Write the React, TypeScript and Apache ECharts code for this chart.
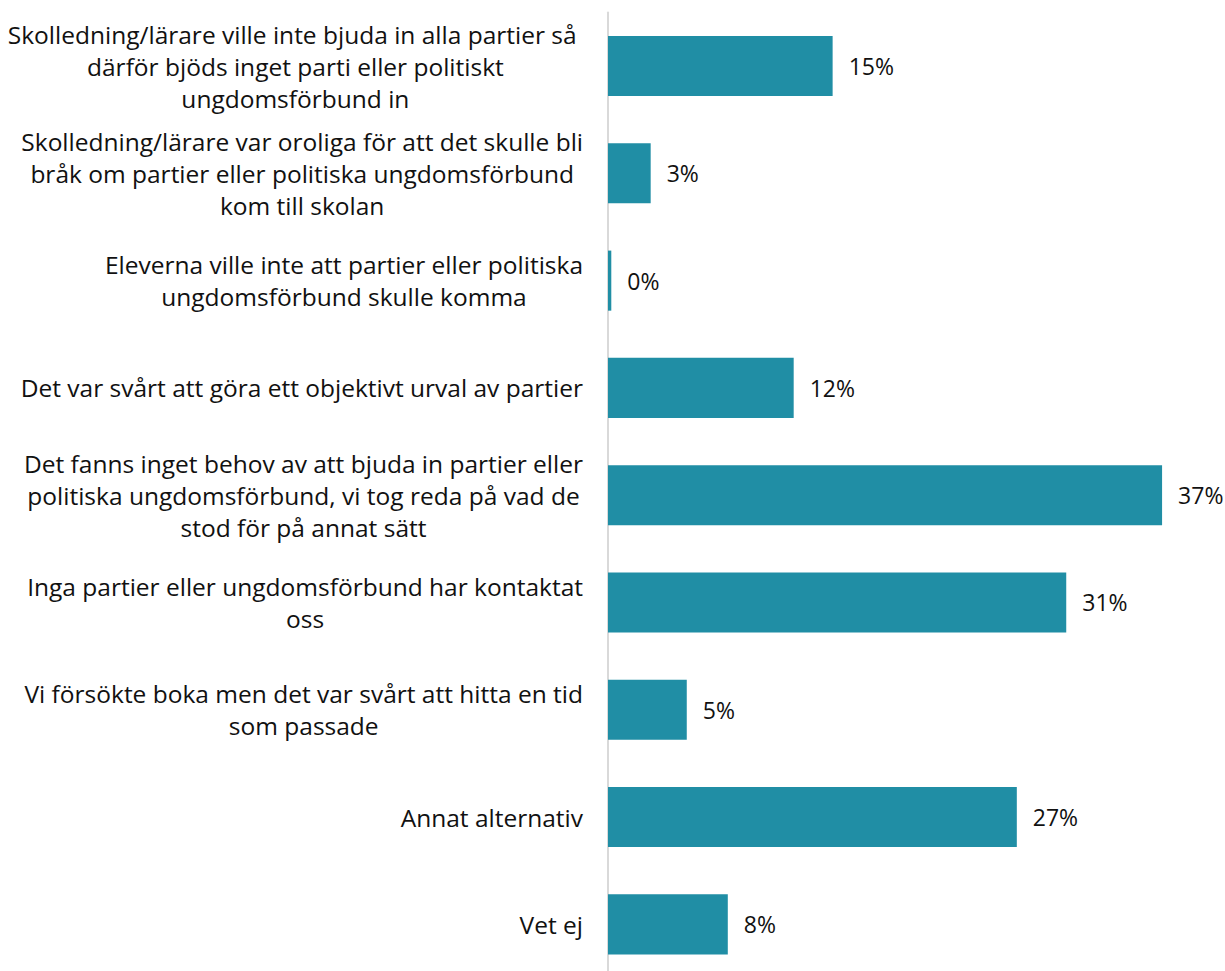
import React, { useEffect, useRef } from "react";
import * as echarts from "echarts";

const categories: string[] = [
  "Skolledning/lärare ville inte bjuda in alla partier så \ndärför bjöds inget parti eller politiskt\nungdomsförbund in",
  "Skolledning/lärare var oroliga för att det skulle bli\nbråk om partier eller politiska ungdomsförbund\nkom till skolan",
  "Eleverna ville inte att partier eller politiska\nungdomsförbund skulle komma",
  "Det var svårt att göra ett objektivt urval av partier",
  "Det fanns inget behov av att bjuda in partier eller\npolitiska ungdomsförbund, vi tog reda på vad de\nstod för på annat sätt",
  "Inga partier eller ungdomsförbund har kontaktat\noss",
  "Vi försökte boka men det var svårt att hitta en tid\nsom passade",
  "Annat alternativ",
  "Vet ej",
];

const values: number[] = [15.0, 2.85, 0.22, 12.4, 37.0, 30.6, 5.26, 27.3, 8.0];

export default function App() {
  const ref = useRef<HTMLDivElement>(null);
  useEffect(() => {
    if (!ref.current) return;
    const chart = echarts.init(ref.current, null, { renderer: "svg" });
    chart.setOption({
      animation: false,
      textStyle: { fontFamily: "Open Sans" },
      grid: { left: 608, right: 18, top: 12.4, bottom: 0, containLabel: false },
      xAxis: {
        type: "value",
        min: 0,
        max: 40,
        show: false,
      },
      yAxis: {
        type: "category",
        inverse: true,
        data: categories,
        axisLine: { show: true, lineStyle: { color: "#d9d9d9", width: 2 } },
        axisTick: { show: false },
        splitLine: { show: false },
        axisLabel: {
          margin: 25,
          align: "right",
          formatter: (v: string) =>
            v
              .split("\n")
              .map((l) => `{c|${l}}`)
              .join("\n"),
          rich: {
            c: {
              align: "center",
              fontSize: 24.5,
              lineHeight: 32,
              color: "#111",
              fontFamily: "Open Sans",
            },
          },
        },
      },
      series: [
        {
          type: "bar",
          data: values,
          barCategoryGap: "44%",
          itemStyle: { color: "#208ea5" },
          label: {
            show: true,
            position: "right",
            distance: 16,
            fontSize: 23,
            color: "#111",
            fontFamily: "Open Sans",
            formatter: (p: any) => `${Math.round(p.value)}%`,
          },
        },
      ],
    });
    return () => chart.dispose();
  }, []);
  return (
    <div style={{ position: "fixed", left: 0, top: 0, width: 1225, height: 971, overflow: "hidden", background: "#fff" }}>
      <div ref={ref} style={{ width: 1225, height: 978 }} />
    </div>
  );
}
